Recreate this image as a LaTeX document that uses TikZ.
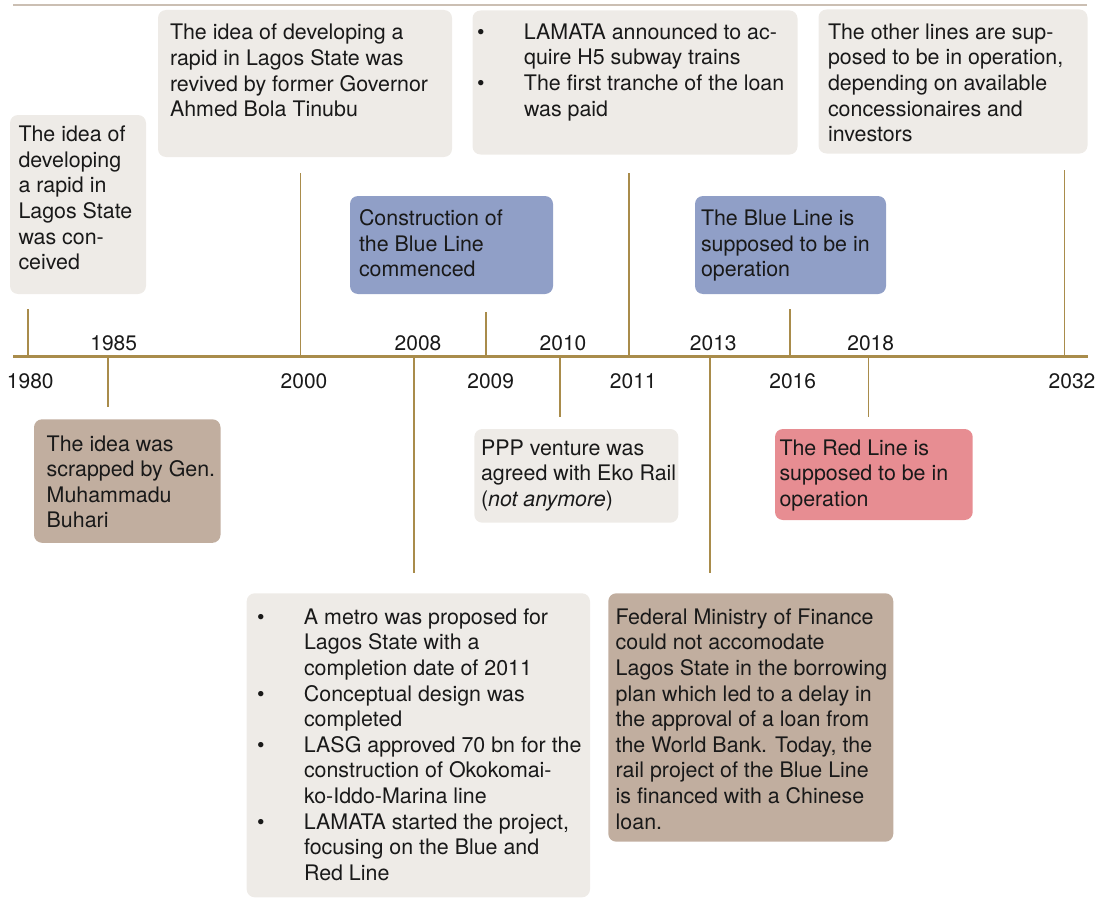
\documentclass[tikz,border=0pt]{standalone}
\usepackage{fontspec}
\setmainfont{TeX Gyre Heros}
\definecolor{cgrey}{HTML}{EEEBE7}
\definecolor{cblue}{HTML}{909FC7}
\definecolor{cbrown}{HTML}{C1AE9F}
\definecolor{cred}{HTML}{E78D92}
\definecolor{cgold}{HTML}{A98C4B}
\definecolor{ctop}{HTML}{CBBFB3}
\newcommand{\blines}[1]{\parbox[t]{420pt}{\raggedright #1}}
\newcommand{\bul}{\makebox[47pt][l]{\textbullet}}
\newcommand{\ind}{\hspace*{47pt}}
\tikzset{
  box/.style={rectangle, rounded corners=8pt, inner sep=0pt, outer sep=0pt, anchor=north west},
  txt/.style={inner sep=0pt, outer sep=0pt, anchor=base west, font=\fontsize{21.4}{25.6}\selectfont, text=black!90},
  yr/.style={inner sep=0pt, outer sep=0pt, anchor=base, font=\fontsize{21}{25.6}\selectfont, text=black!90},
  tickline/.style={draw=cgold, line width=1.3pt},
  axisline/.style={draw=cgold, line width=2.8pt},
  topline/.style={draw=ctop, line width=1.4pt}
}
\begin{document}
\begin{tikzpicture}[x=1pt, y=-1pt]
\useasboundingbox (0,0) rectangle (1098,899);
% frame lines
\coordinate (topL) at (13,5);
\coordinate (topR) at (1087,5);
\draw[topline] (topL) -- (topR);
% boxes
\node[box, fill=cgrey, minimum width=136pt, minimum height=179pt] (b1980) at (10,115) {};
\node[box, fill=cgrey, minimum width=294pt, minimum height=147pt] (b2000) at (158,10) {};
\node[box, fill=cblue, minimum width=203pt, minimum height=98pt] (b2009) at (350,196) {};
\node[box, fill=cgrey, minimum width=325pt, minimum height=144pt] (b2011) at (472.5,10.5) {};
\node[box, fill=cblue, minimum width=191pt, minimum height=98pt] (b2016) at (695,196) {};
\node[box, fill=cgrey, minimum width=269pt, minimum height=144pt] (b2032) at (818.5,9.5) {};
\node[box, fill=cbrown, minimum width=186.5pt, minimum height=123.5pt] (b1985) at (34,419.3) {};
\node[box, fill=cgrey, minimum width=204pt, minimum height=93.7pt] (b2010) at (474.3,429) {};
\node[box, fill=cred, minimum width=197.7pt, minimum height=91pt] (b2018) at (775,429) {};
\node[box, fill=cgrey, minimum width=343.3pt, minimum height=304pt] (b2008) at (246.7,593.3) {};
\node[box, fill=cbrown, minimum width=285pt, minimum height=248.4pt] (b2013) at (608.3,593.3) {};
% texts
\node[txt] (t1980) at (18.5,141.7) {\blines{The idea of\\developing\\a rapid in\\Lagos State\\was con-\\ceived}};
\node[txt] (t2000) at (170,40) {\blines{The idea of developing a\\rapid in Lagos State was\\revived by former Governor\\Ahmed Bola Tinubu}};
\node[txt] (t2009) at (359,225.5) {\blines{Construction of\\the Blue Line\\commenced}};
\node[txt] (t2011) at (477,39.3) {\blines{\bul LAMATA announced to ac-\\\ind quire H5 subway trains\\\bul The first tranche of the loan\\\ind was paid}};
\node[txt] (t2016) at (701,225.5) {\blines{The Blue Line is\\supposed to be in\\operation}};
\node[txt] (t2032) at (828,39.3) {\blines{The other lines are sup-\\posed to be in operation,\\depending on available\\concessionaires and\\investors}};
\node[txt] (t1985) at (46.7,451) {\blines{The idea was\\scrapped by Gen.\\Muhammadu\\Buhari}};
\node[txt] (t2010) at (481,455) {\blines{PPP venture was\\agreed with Eko Rail\\(\textit{not anymore})}};
\node[txt] (t2018) at (779.5,455) {\blines{The Red Line is\\supposed to be in\\operation}};
\node[txt] (t2008) at (257,624.3) {\blines{\bul A metro was proposed for\\\ind Lagos State with a\\\ind completion date of 2011\\\bul Conceptual design was\\\ind completed\\\bul LASG approved 70 bn for the\\\ind construction of Okokomai-\\\ind ko-Iddo-Marina line\\\bul LAMATA started the project,\\\ind focusing on the Blue and\\\ind Red Line}};
\node[txt] (t2013) at (615.7,624.3) {\blines{Federal Ministry of Finance\\could not accomodate\\Lagos State in the borrowing\\plan which led to a delay in\\the approval of a loan from\\the World Bank. Today, the\\rail project of the Blue Line\\is financed with a Chinese\\loan.}};
% ticks
\coordinate (a1980) at (28,356.5);   \coordinate (e1980) at (28,309);
\coordinate (a1985) at (108,356.5);  \coordinate (e1985) at (108,407.3);
\coordinate (a2000) at (300.5,356.5);\coordinate (e2000) at (300.5,173);
\coordinate (a2008) at (414,356.5);  \coordinate (e2008) at (414,573.3);
\coordinate (a2009) at (486,356.5);  \coordinate (e2009) at (486,311.5);
\coordinate (a2010) at (560,356.5);  \coordinate (e2010) at (560,416.7);
\coordinate (a2011) at (629,356.5);  \coordinate (e2011) at (629,173);
\coordinate (a2013) at (710,356.5);  \coordinate (e2013) at (710,573.3);
\coordinate (a2016) at (790,356.5);  \coordinate (e2016) at (790,309);
\coordinate (a2018) at (868.5,356.5);\coordinate (e2018) at (868.5,416.7);
\coordinate (a2032) at (1064.5,356.5);\coordinate (e2032) at (1064.5,170);
\foreach \y in {1980,1985,2000,2008,2009,2010,2011,2013,2016,2018,2032}
  \draw[tickline] (a\y) -- (e\y);
% axis
\coordinate (axL) at (13,356.5);
\coordinate (axR) at (1088,356.5);
\draw[axisline] (axL) -- (axR);
% year labels
\node[yr] (y1980) at (30.3,388.7) {1980};
\node[yr] (y1985) at (113.7,350) {1985};
\node[yr] (y2000) at (304,388.7) {2000};
\node[yr] (y2008) at (418,350) {2008};
\node[yr] (y2009) at (490.7,388.7) {2009};
\node[yr] (y2010) at (563,350) {2010};
\node[yr] (y2011) at (633.3,388.7) {2011};
\node[yr] (y2013) at (713.3,350) {2013};
\node[yr] (y2016) at (792.7,388.7) {2016};
\node[yr] (y2018) at (870.7,350) {2018};
\node[yr] (y2032) at (1072,388.7) {2032};
\end{tikzpicture}
\end{document}
